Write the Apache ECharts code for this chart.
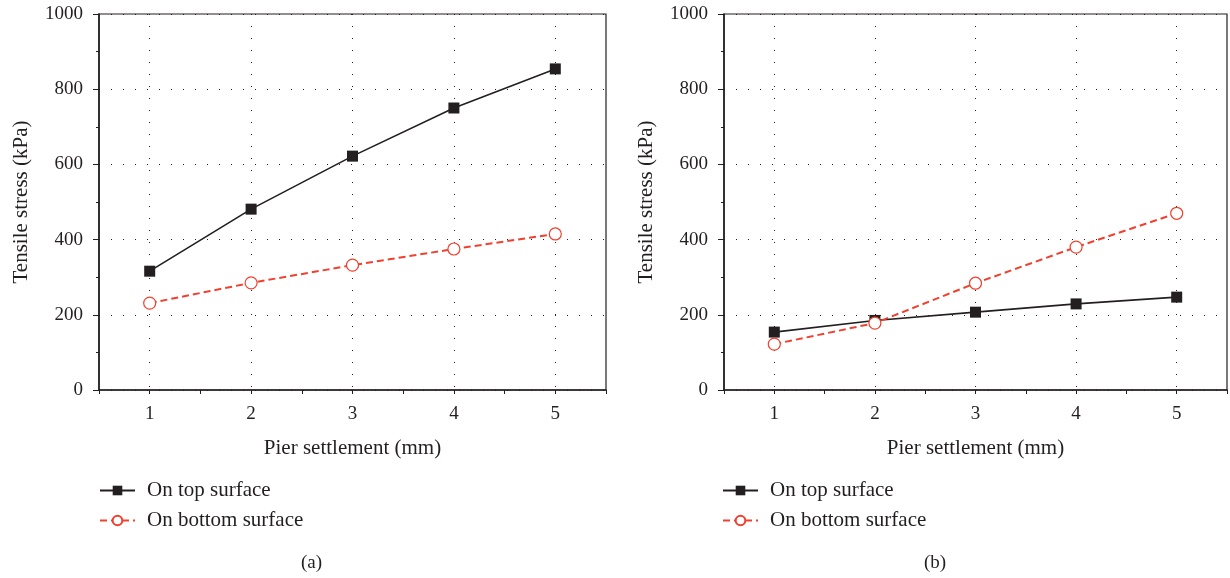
<!DOCTYPE html>
<html>
<head>
<meta charset="utf-8">
<script src="https://cdn.jsdelivr.net/npm/echarts@6/dist/echarts.min.js"></script>
<style>
  html, body { margin: 0; padding: 0; background: #fff; }
  #chart { width: 1230px; height: 578px; }
</style>
</head>
<body>
<div id="chart"></div>
<script>
const settlement = [1, 2, 3, 4, 5];
// panel (a)
const topA = [316, 481, 622, 750, 854];
const bottomA = [231, 285, 332, 375, 415];
// panel (b)
const topB = [154, 185, 207, 229, 247];
const bottomB = [122, 178, 284, 380, 470];

const FONT = "Liberation Serif";
const INK = "#231f20";
const RED = "#ef4130";

function pairs(ys) {
  return settlement.map((x, i) => [x, ys[i]]);
}

function xAxis(gridIndex) {
  return {
    type: "value",
    gridIndex,
    min: 0.5,
    max: 5.5,
    interval: 0.5,
    name: "Pier settlement (mm)",
    nameLocation: "middle",
    nameGap: 48,
    nameTextStyle: { fontFamily: FONT, fontSize: 21, color: INK },
    axisLine: { lineStyle: { color: INK, width: 1.6 } },
    axisTick: { inside: false, length: 4, lineStyle: { color: INK } },
    axisLabel: {
      margin: 15,
      fontFamily: FONT, fontSize: 19, color: INK,
      formatter: v => (Number.isInteger(v) ? String(v) : ""),
    },
    // grid lines only at the whole-number ticks
    splitLine: {
      show: true, showMinLine: true, showMaxLine: true,
      lineStyle: { color: ["transparent", INK], type: [1, 11], width: 1 },
    },
  };
}

function yAxis(gridIndex) {
  return {
    type: "value",
    gridIndex,
    min: 0,
    max: 1000,
    interval: 200,
    name: "Tensile stress (kPa)",
    nameLocation: "middle",
    nameGap: 67,
    nameTextStyle: { fontFamily: FONT, fontSize: 21, color: INK },
    axisLine: { show: true, lineStyle: { color: INK, width: 1.6 } },
    axisTick: { show: true, inside: false, length: 6, lineStyle: { color: INK } },
    minorTick: { show: true, splitNumber: 2, length: 3, lineStyle: { color: INK } },
    axisLabel: { margin: 16, fontFamily: FONT, fontSize: 19, color: INK, formatter: v => String(v) },
    splitLine: { show: true, lineStyle: { color: INK, type: [1, 11], width: 1 } },
  };
}

function seriesPair(gridIndex, tops, bottoms) {
  return [
    {
      name: "On top surface",
      type: "line",
      xAxisIndex: gridIndex,
      yAxisIndex: gridIndex,
      data: pairs(tops),
      symbol: "rect",
      symbolSize: 11,
      itemStyle: { color: INK },
      lineStyle: { color: INK, width: 1.6 },
      z: 3,
    },
    {
      name: "On bottom surface",
      type: "line",
      xAxisIndex: gridIndex,
      yAxisIndex: gridIndex,
      data: pairs(bottoms),
      symbol: "circle",
      symbolSize: 12,
      itemStyle: { color: "#fff", borderColor: RED, borderWidth: 1.2 },
      lineStyle: { color: RED, width: 2, type: [7, 4] },
      z: 4,
    },
  ];
}

function legend(left) {
  return {
    orient: "vertical",
    left,
    top: 475,
    itemWidth: 35,
    itemHeight: 12,
    itemGap: 9,
    textStyle: { fontFamily: FONT, fontSize: 21, color: INK, padding: [0, 0, 0, 7] },
    data: ["On top surface", "On bottom surface"],
  };
}

const capStyle = { fontFamily: FONT, fontSize: 19, fontWeight: "normal", color: INK };

const chart = echarts.init(document.getElementById("chart"));
chart.setOption({
  animation: false,
  backgroundColor: "#fff",
  title: [
    { text: "(a)", left: 296, top: 549, textStyle: capStyle },
    { text: "(b)", left: 919, top: 549, textStyle: capStyle },
  ],
  legend: [legend(94), legend(717)],
  grid: [
    { left: 99, right: 624, top: 14, bottom: 188, show: true, borderColor: INK, borderWidth: 1.2, backgroundColor: "transparent" },
    { left: 724, right: 1, top: 14, bottom: 188, show: true, borderColor: INK, borderWidth: 1.2, backgroundColor: "transparent" },
  ],
  xAxis: [xAxis(0), xAxis(1)],
  yAxis: [yAxis(0), yAxis(1)],
  series: [...seriesPair(0, topA, bottomA), ...seriesPair(1, topB, bottomB)],
});
</script>
</body>
</html>
